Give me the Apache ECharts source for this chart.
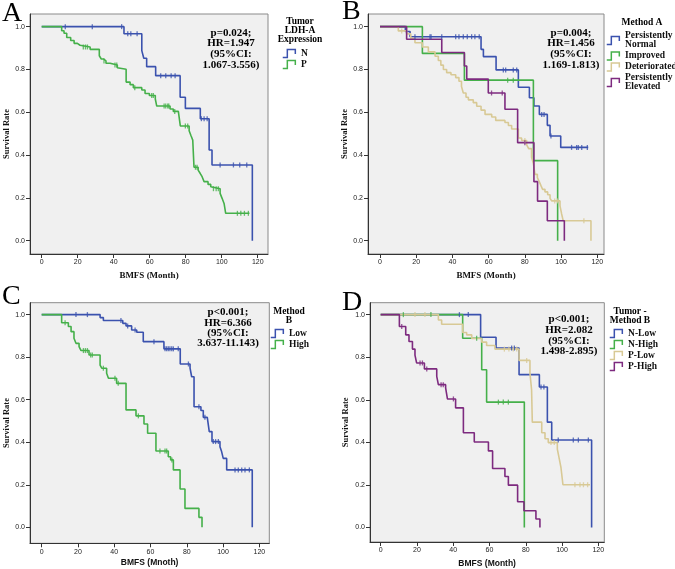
<!DOCTYPE html>
<html><head><meta charset="utf-8">
<script src="https://cdn.jsdelivr.net/npm/echarts@6/dist/echarts.min.js"></script>
<style>html,body{margin:0;padding:0;background:#fff}#c{width:675px;height:569px}</style>
</head><body><div id="c"></div>
<script>
// ---------- tick labels ----------
const xTicks = [0, 20, 40, 60, 80, 100, 120];
const yTicks = [0, 0.2, 0.4, 0.6, 0.8, 1.0];

// ---------- Panel A : Tumor LDH-A Expression ----------
const aNames = ['N', 'P'];
const aN_t = [0, 45.7, 55.6, 56.7, 58.3, 63.3, 76.9, 79.8, 88.1, 93.0, 94.6, 117];
const aN_s = [1, 0.967, 0.888, 0.852, 0.813, 0.771, 0.670, 0.618, 0.570, 0.424, 0.354, 0];
const aN_c = [13.1, 28.1, 44.4, 47.8, 49.5, 53, 66.1, 68.9, 71.9, 74.1, 88.7, 90.2, 91.9, 99.1, 106.5, 110, 113.9];
const aP_t = [0, 11.1, 12.4, 13.9, 16.1, 18.0, 19.8, 21.3, 26.9, 32.0, 33.1, 34.3, 35.7, 38.0, 42.0, 43.1, 46.9, 49.1, 50.9, 55.6, 57.4, 59.8, 63.1, 63.9, 71.3, 73.1, 75.9, 77.0, 81.9, 83.0, 83.9, 84.6, 86.9, 88.0, 89.1, 90.2, 92.4, 93.9, 94.6, 99.1, 100.2, 101.3, 102.2, 115.4];
const aP_s = [1, 0.981, 0.969, 0.949, 0.935, 0.922, 0.913, 0.905, 0.894, 0.864, 0.849, 0.840, 0.829, 0.821, 0.808, 0.801, 0.741, 0.729, 0.715, 0.704, 0.688, 0.678, 0.662, 0.629, 0.615, 0.604, 0.595, 0.536, 0.514, 0.489, 0.470, 0.343, 0.330, 0.315, 0.299, 0.276, 0.263, 0.252, 0.243, 0.221, 0.198, 0.174, 0.128, 0.128];
const aP_c = [23.1, 24.3, 25.4, 34.6, 40.7, 41.7, 51.7, 61.1, 62.0, 68, 68.9, 70, 70.6, 73.9, 79.8, 81.1, 85.4, 86.3, 95.4, 96.9, 98.1, 108.7, 110.6, 112.6, 114.8];

// ---------- Panel B : Method A ----------
const bNames = ['Persistently Normal', 'Improved', 'Deteriorated', 'Persistently Elevated'];
const bPN_t = [0, 14.0, 16.6, 55.8, 57.1, 64.1, 76.4, 82.5, 85.0, 88.0, 92.4, 93.9, 99.8, 115.0];
const bPN_s = [1, 0.977, 0.953, 0.894, 0.860, 0.798, 0.717, 0.668, 0.629, 0.590, 0.539, 0.489, 0.436, 0.436];
const bPN_c = [19.3, 27.6, 28.2, 34.1, 41.8, 43.6, 46.0, 48.2, 50.6, 52.4, 54.8, 68.1, 69.4, 73.6, 75.5, 89.3, 90.6, 94.4, 105.8, 108.6, 109.5, 111.4, 114.5];
const bIM_t = [0, 23.4, 46.6, 84.7, 98.1];
const bIM_s = [1, 0.875, 0.75, 0.374, 0];
const bIM_c = [70.5, 73.6];
const bDE_t = [0, 10.1, 14.7, 17.0, 19.3, 23.4, 26.7, 30.4, 32.2, 33.6, 35.0, 36.8, 39.2, 41.8, 43.6, 45.0, 46.0, 47.5, 48.8, 51.5, 53.4, 55.8, 58.0, 61.7, 63.9, 69.0, 70.9, 72.7, 76.4, 78.2, 81.0, 82.1, 83.7, 84.7, 85.6, 86.9, 88.0, 89.0, 89.8, 91.1, 92.6, 93.9, 94.8, 99.4, 100.3, 101.2, 116.5];
const bDE_s = [1, 0.980, 0.966, 0.945, 0.925, 0.905, 0.882, 0.862, 0.842, 0.820, 0.800, 0.785, 0.775, 0.762, 0.745, 0.720, 0.690, 0.670, 0.658, 0.645, 0.628, 0.610, 0.590, 0.578, 0.562, 0.552, 0.538, 0.522, 0.480, 0.468, 0.448, 0.430, 0.390, 0.360, 0.310, 0.295, 0.275, 0.255, 0.240, 0.228, 0.215, 0.198, 0.186, 0.163, 0.125, 0.093, 0];
const bDE_c = [12.0, 80.0, 96.5, 98.0, 112.6];
const bPE_t = [0, 14.7, 34.1, 46.6, 47.9, 59.8, 69.0, 76.0, 85.0, 87.0, 92.4, 101.8];
const bPE_s = [1, 0.941, 0.879, 0.816, 0.755, 0.690, 0.614, 0.458, 0.276, 0.185, 0.093, 0];
const bPE_c = [61.6, 67.5, 80.0];

// ---------- Panel C : Method B ----------
const cNames = ['Low', 'High'];
const cL_t = [0, 32.2, 34.0, 44.7, 46.5, 49.6, 52.4, 56.0, 67.4, 76.4, 81.8, 82.7, 84.0, 87.8, 89.1, 91.3, 92.4, 93.9, 98.3, 99.2, 100.1, 102.0, 116.1];
const cL_s = [1, 0.986, 0.972, 0.959, 0.947, 0.928, 0.917, 0.873, 0.839, 0.768, 0.748, 0.708, 0.567, 0.549, 0.517, 0.508, 0.450, 0.403, 0.379, 0.356, 0.324, 0.270, 0];
const cL_c = [18.9, 25.2, 43.7, 47.4, 51.5, 61.9, 68.0, 68.9, 69.8, 70.7, 71.7, 72.6, 75.3, 80.9, 86.7, 90.0, 94.6, 95.9, 97.4, 106.6, 108.4, 110.3, 112.1, 114.5];
const cH_t = [0, 11.0, 14.7, 16.2, 17.8, 18.9, 20.6, 21.7, 26.1, 32.2, 33.1, 35.8, 36.8, 41.3, 46.5, 52.0, 56.4, 58.4, 63.0, 69.8, 71.1, 72.6, 76.3, 79.0, 86.7, 88.4];
const cH_s = [1, 0.962, 0.944, 0.920, 0.889, 0.865, 0.850, 0.831, 0.810, 0.763, 0.748, 0.724, 0.701, 0.677, 0.552, 0.524, 0.486, 0.442, 0.359, 0.332, 0.317, 0.270, 0.180, 0.089, 0.047, 0];
const cH_c = [12.9, 23.0, 24.1, 25.2, 27.0, 27.9, 34.0, 40.4, 42.2, 53.3, 65.2, 68.0, 68.9, 71.8];

// ---------- Panel D : Tumor - Method B ----------
const dNames = ['N-Low', 'N-High', 'P-Low', 'P-High'];
const dNL_t = [0, 55.1, 63.6, 76.3, 87.5, 91.9, 94.3, 116.3];
const dNL_s = [1, 0.894, 0.843, 0.718, 0.660, 0.495, 0.411, 0];
const dNL_c = [43.4, 48.3, 72.2, 73.7, 88.4, 90.0, 97.9, 106.2, 109.0, 114.5];
const dNH_t = [0, 45.2, 55.7, 58.4, 79.2];
const dNH_s = [1, 0.889, 0.741, 0.589, 0];
const dNH_c = [12.5, 27.7, 52.9, 64.9, 67.6, 70.4];
const dPL_t = [0, 31.8, 33.6, 45.2, 47.4, 50.2, 55.7, 58.4, 63.0, 76.3, 82.3, 83.2, 83.6, 88.8, 90.6, 92.4, 97.4, 98.5, 99.4, 100.5, 115.4];
const dPL_s = [1, 0.975, 0.955, 0.916, 0.905, 0.888, 0.871, 0.855, 0.838, 0.785, 0.726, 0.648, 0.495, 0.445, 0.417, 0.399, 0.368, 0.321, 0.282, 0.201, 0.201];
const dPL_c = [18.9, 24.4, 68.2, 70.7, 73.1, 75.0, 80.5, 93.9, 95.7, 107.1, 109.9, 111.8, 114.1];
const dPH_t = [0, 10.3, 13.8, 15.6, 17.5, 18.9, 19.8, 24.1, 30.9, 31.8, 35.8, 36.8, 41.3, 45.6, 51.6, 59.4, 61.7, 68.5, 70.4, 75.5, 79.0, 85.6, 87.8];
const dPH_s = [1, 0.944, 0.905, 0.874, 0.838, 0.810, 0.773, 0.745, 0.710, 0.671, 0.656, 0.604, 0.562, 0.445, 0.402, 0.360, 0.277, 0.240, 0.199, 0.121, 0.079, 0.040, 0];
const dPH_c = [11.6, 21.7, 23.0, 25.4, 33.3, 34.5, 40.1];

// ---------- colours ----------
const BLUE = '#3b52ae', GREEN = '#45b04a', TAN = '#d8c995', PURPLE = '#7d2a7f';
const aColors = [BLUE, GREEN];
const bColors = [BLUE, GREEN, TAN, PURPLE];
const cColors = [BLUE, GREEN];
const dColors = [BLUE, GREEN, TAN, PURPLE];

// ---------- helpers ----------
function pts(t, s) { return t.map((v, i) => [v, s[i]]); }
function survAt(t, s, x) { let v = s[0]; for (let i = 0; i < t.length; i++) { if (t[i] <= x) v = s[i]; } return v; }
function cens(t, s, c) { return c.map(x => [x, survAt(t, s, x)]); }

const series = [];
function addCurve(g, name, color, t, s, c) {
  series.push({
    type: 'line', name: name, xAxisIndex: g, yAxisIndex: g, step: 'end',
    data: pts(t, s), symbol: 'none', showSymbol: false, animation: false,
    color: color, lineStyle: { color: color, width: 1.6 }, z: 3
  });
  series.push({
    type: 'scatter', name: name + ' (censored)', xAxisIndex: g, yAxisIndex: g,
    data: cens(t, s, c), symbol: 'rect', symbolSize: [1.3, 5], animation: false,
    itemStyle: { color: color }, z: 4, silent: true
  });
}
addCurve(0, aNames[0], aColors[0], aN_t, aN_s, aN_c);
addCurve(0, aNames[1], aColors[1], aP_t, aP_s, aP_c);
addCurve(1, bNames[0], bColors[0], bPN_t, bPN_s, bPN_c);
addCurve(1, bNames[1], bColors[1], bIM_t, bIM_s, bIM_c);
addCurve(1, bNames[2], bColors[2], bDE_t, bDE_s, bDE_c);
addCurve(1, bNames[3], bColors[3], bPE_t, bPE_s, bPE_c);
addCurve(2, cNames[0], cColors[0], cL_t, cL_s, cL_c);
addCurve(2, cNames[1], cColors[1], cH_t, cH_s, cH_c);
addCurve(3, dNames[0], dColors[0], dNL_t, dNL_s, dNL_c);
addCurve(3, dNames[1], dColors[1], dNH_t, dNH_s, dNH_c);
addCurve(3, dNames[2], dColors[2], dPL_t, dPL_s, dPL_c);
addCurve(3, dNames[3], dColors[3], dPH_t, dPH_s, dPH_c);

// ---------- layout ----------
const SERIF = '"Liberation Serif", "Times New Roman", serif';
const SANS = '"Liberation Sans", Arial, sans-serif';
const grids = [
  { left: 30, top: 14, width: 238, height: 240 },
  { left: 368, top: 14, width: 236, height: 240 },
  { left: 30, top: 302.7, width: 239.3, height: 240.6 },
  { left: 370, top: 302.7, width: 234.3, height: 240.6 }
];
const xr = [[-6.5, 125.7], [-6.63, 123.7], [-6.45, 125.5], [-5.9, 123.3]];
const yr = [[-0.062, 1.059], [-0.062, 1.059], [-0.075, 1.056], [-0.068, 1.056]];
const xNames = ['BMFS (Month)', 'BMFS (Month)', 'BMFS (Mnoth)', 'BMFS (Month)'];
const xNameFont = [SERIF, SERIF, SANS, SANS];
const xNameSize = [9, 9, 8.5, 8.5];
const xGap = [17, 17, 15, 17];
const yGap = [18, 18, 19, 20];

const axisCommon = {
  axisLine: { show: true, onZero: false, lineStyle: { color: '#333', width: 1 } },
  splitLine: { show: false }
};
const xAxis = grids.map((g, i) => ({
  type: 'value', gridIndex: i, min: xr[i][0], max: xr[i][1],
  ...axisCommon,
  axisTick: { show: true, length: 4, lineStyle: { color: '#333' }, customValues: xTicks },
  axisLabel: { customValues: xTicks, fontSize: 7, fontFamily: SANS, color: '#222', margin: 5 },
  name: xNames[i], nameLocation: 'middle', nameGap: xGap[i],
  nameTextStyle: { fontFamily: xNameFont[i], fontWeight: 'bold', fontSize: xNameSize[i], color: '#111', verticalAlign: 'top' }
}));
const yAxis = grids.map((g, i) => ({
  type: 'value', gridIndex: i, min: yr[i][0], max: yr[i][1],
  ...axisCommon,
  axisTick: { show: true, length: 4, lineStyle: { color: '#333' }, customValues: yTicks },
  axisLabel: { customValues: yTicks, fontSize: 7, fontFamily: SANS, color: '#222', margin: 5, formatter: v => Number(v).toFixed(1) },
  name: 'Survival Rate', nameLocation: 'middle', nameGap: yGap[i], nameRotate: 90,
  nameTextStyle: { fontFamily: SERIF, fontWeight: 'bold', fontSize: 8.5, color: '#111' }
}));

const ICON = 'path://M0,8L4,8L4,1L11,1L11,5';
function legend(names, colors, left, top, fmt) {
  return {
    orient: 'vertical', left: left, top: top, itemWidth: 14, itemHeight: 8, itemGap: 1,
    padding: 0, selectedMode: false,
    data: names.map((n, i) => ({
      name: n, icon: ICON,
      itemStyle: { color: 'rgba(0,0,0,0)', borderColor: colors[i], borderWidth: 1.5, opacity: 1 }
    })),
    textStyle: { fontFamily: SERIF, fontWeight: 'bold', fontSize: 9.5, lineHeight: 9, color: '#111', padding: 0 },
    formatter: fmt || (n => n)
  };
}

function txt(x, y, text, font, lh, align) {
  return { type: 'text', x: x, y: y, silent: true,
    style: { text: text, font: font, align: align || 'center', verticalAlign: 'middle', lineHeight: lh, fill: '#000' } };
}
const boldSerif11 = 'bold 11px ' + SERIF;
const boldSerif95 = 'bold 9.5px ' + SERIF;
const letter = '28px ' + SERIF;

const option = {
  backgroundColor: '#fff',
  animation: false,
  grid: grids.map(g => ({ ...g, show: true, backgroundColor: '#f0f0f0', borderColor: '#8a8a8a', borderWidth: 1, containLabel: false })),
  xAxis: xAxis,
  yAxis: yAxis,
  legend: [
    legend(aNames, aColors, 282, 48.5),
    legend(bNames, bColors, 606, 31, n => n.replace('Persistently ', 'Persistently\n')),
    legend(cNames, cColors, 270, 328.5),
    legend(dNames, dColors, 609, 328.5)
  ],
  graphic: [
    txt(2, 13.5, 'A', letter, 28, 'left'),
    txt(342, 12, 'B', letter, 28, 'left'),
    txt(2, 297, 'C', letter, 28, 'left'),
    txt(342, 302.5, 'D', letter, 28, 'left'),
    txt(231, 49, 'p=0.024;\nHR=1.947\n(95%CI:\n1.067-3.556)', boldSerif11, 10.7),
    txt(571, 49, 'p=0.004;\nHR=1.456\n(95%CI:\n1.169-1.813)', boldSerif11, 10.8),
    txt(228, 328, 'p<0.001;\nHR=6.366\n(95%CI:\n3.637-11.143)', boldSerif11, 10.3),
    txt(569, 335.4, 'p<0.001;\nHR=2.082\n(95%CI:\n1.498-2.895)', boldSerif11, 10.8),
    txt(300, 31, 'Tumor\nLDH-A\nExpression', boldSerif95, 9),
    txt(642, 23, 'Method A', boldSerif95, 9),
    txt(289, 315.8, 'Method\nB', boldSerif95, 8.5),
    txt(630, 316.5, 'Tumor -\nMethod B', boldSerif95, 9)
  ],
  series: series
};
const chart = echarts.init(document.getElementById('c'), null, { renderer: 'canvas' });
chart.setOption(option);
</script></body></html>
